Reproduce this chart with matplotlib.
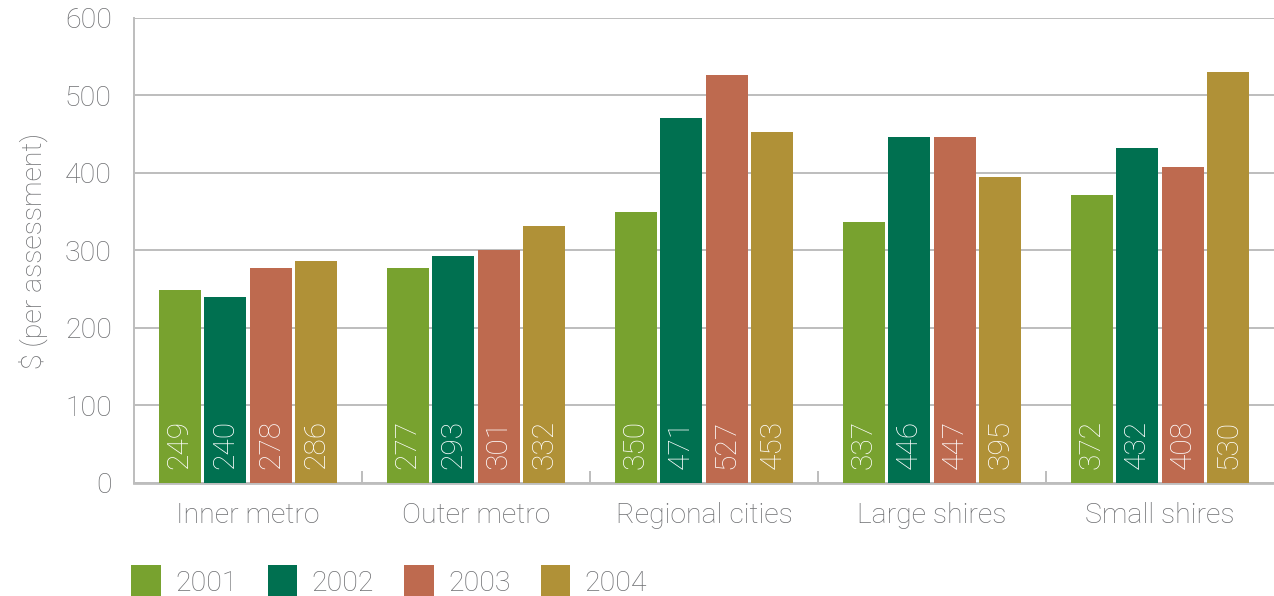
import numpy as np
import matplotlib.pyplot as plt
from matplotlib.patches import Patch

categories = ['Inner metro', 'Outer metro', 'Regional cities', 'Large shires', 'Small shires']
years = ['2001', '2002', '2003', '2004']
v2001 = [249, 277, 350, 337, 372]
v2002 = [240, 293, 471, 446, 432]
v2003 = [278, 301, 527, 447, 408]
v2004 = [286, 332, 453, 395, 530]
colours = ['#78A22F', '#007050', '#BE6A4F', '#B09137']

grey = '#6D6E71'
fs = 20.5
plt.rcParams['font.family'] = ['Roboto', 'DejaVu Sans']
plt.rcParams['font.weight'] = 'light'
plt.rcParams['axes.labelweight'] = 'light'

fig = plt.figure(figsize=(12.74, 5.96), dpi=100)
ax = fig.add_axes([0.1052, 0.1896, 0.8948, 0.7802])

x = np.arange(len(categories))
series = [v2001, v2002, v2003, v2004]
for k, vals in enumerate(series):
    pos = x + 0.2 * (k + 1)
    bars = ax.bar(pos, vals, width=0.184, color=colours[k], zorder=3)
    for b, v in zip(bars, vals):
        ax.annotate(str(v), (b.get_x() + b.get_width() / 2, 0),
                    xytext=(0, 10), textcoords='offset points',
                    rotation=90, ha='center', va='bottom',
                    color='white', fontsize=fs + 1, zorder=4)

ax.set_xlim(0, 5)
ax.set_ylim(0, 600)
ax.set_yticks(range(0, 601, 100))
ax.yaxis.grid(True, color='#BDBDBD', linewidth=1.4, zorder=0)
ax.tick_params(axis='y', length=0, pad=16, labelsize=fs, labelcolor=grey)

ax.set_xticks(x + 0.5)
ax.set_xticklabels(categories)
ax.tick_params(axis='x', which='major', length=0, pad=14, labelsize=fs, labelcolor=grey)
ax.set_xticks(np.arange(1, 5), minor=True)
ax.tick_params(axis='x', which='minor', direction='in', length=9, width=1.4, color='#BDBDBD')

for s in ['top', 'right']:
    ax.spines[s].set_visible(False)
ax.spines['left'].set_color('#BDBDBD')
ax.spines['left'].set_linewidth(1.4)
ax.spines['bottom'].set_color('#BDBDBD')
ax.spines['bottom'].set_linewidth(2)

ax.set_ylabel('$ (per assessment)', fontsize=fs, color=grey, labelpad=12, fontweight='light')

handles = [Patch(facecolor=c, label=y) for c, y in zip(colours, years)]
leg = fig.legend(handles=handles, loc='upper left', bbox_to_anchor=(0.094, 0.071),
                 ncol=4, frameon=False, fontsize=fs, handlelength=1.05, handleheight=1.4,
                 handletextpad=0.5, columnspacing=1.05, borderaxespad=0)
for t in leg.get_texts():
    t.set_color(grey)

fig.savefig('out.png', dpi=100)
